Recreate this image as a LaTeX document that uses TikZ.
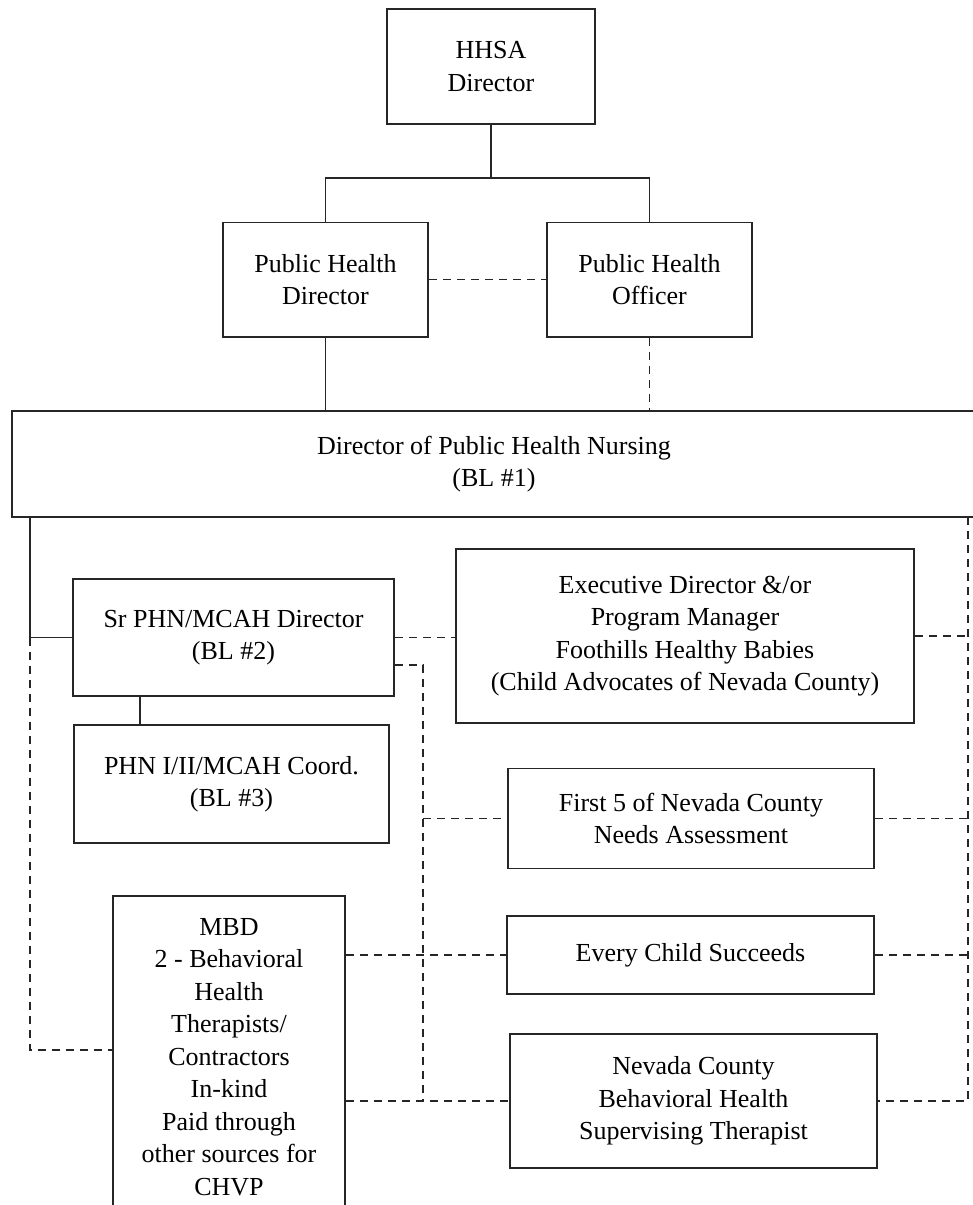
\documentclass[tikz,border=0pt]{standalone}
\usepackage{fontspec}
\setmainfont{Liberation Serif}
\begin{document}
\begin{tikzpicture}[x=1pt,y=-1pt,
  box/.style={draw=black!85, line width=1.5pt, align=center, inner sep=0pt, font=\fontsize{26}{32.5}\selectfont, text=black},
  txt/.style={align=center, inner sep=0pt, font=\fontsize{26}{32.5}\selectfont, text=black},
  sline/.style={draw=black!85, line width=1.5pt},
  dline/.style={draw=black!85, line width=1.5pt, dash pattern=on 8pt off 6pt}]
\useasboundingbox (0,0) rectangle (973,1205);
\clip (0,0) rectangle (973,1205);
% boxes
\node[box, minimum width=208pt, minimum height=115pt] (hhsa) at (491,66.5) {HHSA\\Director};
\node[box, minimum width=205pt, minimum height=114.5pt] (phd) at (325.5,279.5) {Public Health\\Director};
\node[box, minimum width=205pt, minimum height=114.5pt] (pho) at (649.5,279.5) {Public Health\\Officer};
\node[box, minimum width=964pt, minimum height=106pt] (dphn) at (494,464) {Director of Public Health Nursing\\(BL \#1)};
\node[box, minimum width=321pt, minimum height=117pt] (sr) at (233.5,637.5) {Sr PHN/MCAH Director\\(BL \#2)};
\node[box, minimum width=315pt, minimum height=118pt] (phn) at (231.5,784) {PHN I/II/MCAH Coord.\\(BL \#3)};
\node[box, minimum width=458pt, minimum height=174pt] (exec) at (685,636) {Executive Director \&/or\\Program Manager\\Foothills Healthy Babies\\(Child Advocates of Nevada County)};
\node[box, minimum width=366pt, minimum height=100pt] (first5) at (691,818.5) {First 5 of Nevada County\\Needs Assessment};
\node[box, minimum width=367pt, minimum height=78pt] (ecs) at (690.5,955) {Every Child Succeeds};
\node[box, minimum width=367pt, minimum height=134pt] (ncbh) at (693.5,1101) {Nevada County\\Behavioral Health\\Supervising Therapist};
\node[box, anchor=north, minimum width=232pt, minimum height=340pt] (mbd) at (229,895) {};
\node[txt, anchor=north] (mbdt) at (229,918) {MBD\\2 - Behavioral\\Health\\Therapists/\\Contractors\\In-kind\\Paid through\\other sources for\\CHVP};
% solid connectors
\coordinate (j1) at (491,178);
\draw[sline] (hhsa.south) -- (j1);
\draw[sline] (phd.north) |- (j1) -| (pho.north);
\draw[sline] (phd.south) -- (phd.south |- dphn.north);
\coordinate (dl) at (30,517);
\draw[sline] (dl) |- (sr.west);
\draw[sline] (phn.north -| 140,0) -- (sr.south -| 140,0);
% dashed connectors
\draw[dline] (phd.east) -- (pho.west);
\draw[dline] (pho.south) -- (pho.south |- dphn.north);
\coordinate (mlj) at (30,1050);
\draw[dline] (dl |- sr.west) |- (mlj -| mbd.west);
\draw[dline] (sr.east) -- (sr.east -| exec.west);
\coordinate (vx) at (423,665);
\draw[dline] (sr.east |- vx) -- (vx) -- (vx |- ncbh.west);
\draw[dline] (vx |- first5.west) -- (first5.west);
\draw[dline] (mbd.east |- ecs.west) -- (ecs.west);
\draw[dline] (mbd.east |- ncbh.west) -- (ncbh.west);
\coordinate (rx) at (968,517);
\draw[dline] (rx) -- (rx |- ncbh.east) -- (ncbh.east);
\draw[dline] (exec.east) -- (exec.east -| rx);
\draw[dline] (first5.east) -- (first5.east -| rx);
\draw[dline] (ecs.east) -- (ecs.east -| rx);
\end{tikzpicture}
\end{document}
